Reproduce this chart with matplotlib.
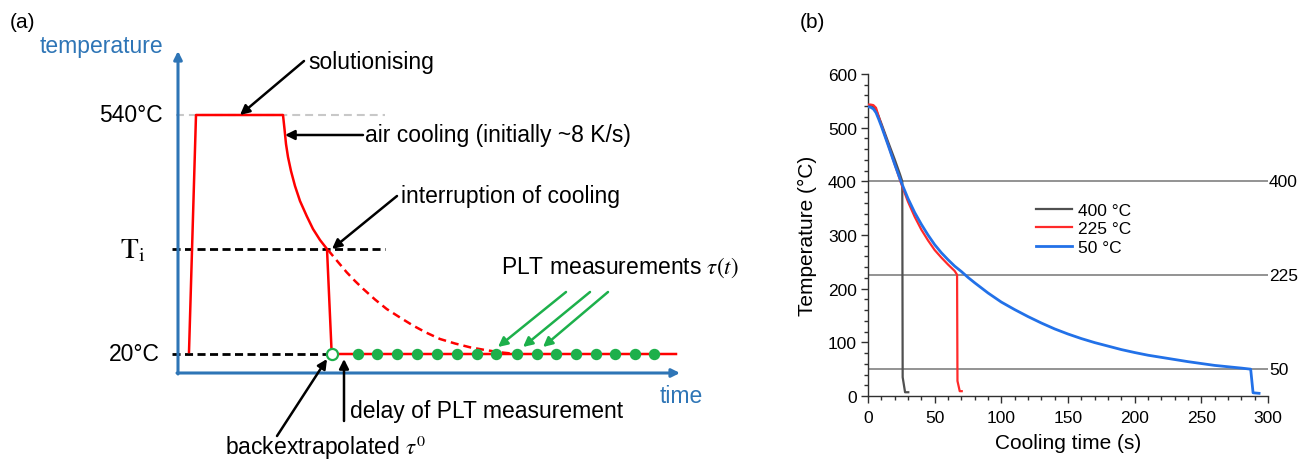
import matplotlib
matplotlib.use("Agg")
import matplotlib.pyplot as plt
from matplotlib.ticker import MultipleLocator
from matplotlib.transforms import blended_transform_factory

plt.rcParams['font.family'] = ['Liberation Sans', 'DejaVu Sans']
plt.rcParams['mathtext.fontset'] = 'stix'

# ---- (a) schematic heat treatment path, drawn on a pixel-like canvas (y grows downward) ----
axis_origin = (178, 374)
axis_top = 52
axis_right = 680

level_540 = 116
level_ti = 250
level_20 = 355

# heating, solutionising, air cooling down to Ti, quench to room temperature
path_x = [189, 196, 283, 284.5, 286, 288, 291, 295, 300, 306.7, 313, 320, 327, 331.7, 676]
path_y = [353, 116, 116, 130, 145, 158, 172, 187, 202, 217, 230, 241, 250, 355, 355]

# continued air cooling (not performed)
cont_x = [328, 338, 346.7, 355, 363.3, 375, 386.7, 400, 413.3, 426, 440, 455, 470, 485, 500, 516]
cont_y = [251, 263, 273.3, 282, 290, 300.5, 310, 318.5, 326.7, 333.5, 340, 344.5, 348.3, 351, 353.3, 355]

# PLT measurement points
plt_x = [358, 377, 397, 417, 437, 457, 477, 496, 517, 537, 556, 576, 596, 615, 635, 654]
tau0_x = 332

# ---- (b) measured cooling curves ----
t_400 = [0, 2, 4, 6, 8, 10, 15, 20, 24, 25.7, 26.0, 27.8, 30.2]
T_400 = [541, 541, 539, 533, 521, 508, 474, 441, 413, 400, 35, 7, 7]

t_225 = [0, 2, 4, 6, 8, 10, 15, 20, 25, 30, 35, 40, 45, 50, 55, 60, 65, 66.8, 67.1, 68.8, 70.3]
T_225 = [543, 543, 542, 537, 521, 505, 469, 432, 395, 362, 334, 310, 290, 272, 258, 245, 233, 226, 28, 9, 9]

t_50 = [0, 2, 4, 6, 8, 10, 15, 20, 25, 30, 35, 40, 45, 50, 55, 60, 65, 70, 75, 80, 90, 100,
        110, 120, 130, 140, 150, 160, 170, 180, 190, 200, 210, 220, 230, 240, 250, 260, 270,
        280, 287, 288.8, 293.3]
T_50 = [539, 538, 535, 528, 516, 503, 468, 432, 398, 368, 342, 320, 300, 282, 267, 254, 242,
        232, 221, 211, 192, 175, 161, 148, 136, 125, 115.5, 107, 99.5, 93, 86.5, 81, 76, 72,
        68, 64, 60.5, 57, 54.5, 52, 50, 6, 5]

stop_levels = [400, 225, 50]

fig = plt.figure(figsize=(12.98, 4.6), dpi=100)

# ================= panel (a) =================
ax = fig.add_axes([0, 0, 720 / 1298, 1])
ax.set_xlim(0, 720)
ax.set_ylim(460, 0)
ax.axis('off')

blue = '#2E75B6'
red = '#FF0000'
green = '#1DB04B'
sans = ['Liberation Sans', 'DejaVu Sans']

# axes with arrow heads
ax.annotate('', xy=(axis_origin[0], axis_top), xytext=(axis_origin[0], axis_origin[1] + 1),
            arrowprops=dict(arrowstyle='-|>', color=blue, lw=2.2, mutation_scale=12,
                            shrinkA=0, shrinkB=0))
ax.annotate('', xy=(axis_right, axis_origin[1]), xytext=(axis_origin[0] - 1, axis_origin[1]),
            arrowprops=dict(arrowstyle='-|>', color=blue, lw=2.2, mutation_scale=12,
                            shrinkA=0, shrinkB=0))
ax.text(40, 47, 'temperature', color=blue, fontsize=16.5, va='center', ha='left', family=sans)
ax.text(660, 397, 'time', color=blue, fontsize=16.5, va='center', ha='left', family=sans)

# reference levels
ax.plot([176, 385], [level_540, level_540], color='#C8C8C8', lw=1.5, dashes=(3.8, 2.4))
ax.plot([172, 385], [level_ti, level_ti], color='black', lw=2, dashes=(2.9, 1.6))
ax.plot([172, 326], [level_20, level_20], color='black', lw=2, dashes=(2.9, 1.6))

ax.text(163, level_540, '540°C', fontsize=16.5, va='center', ha='right', family=sans)
ax.text(120, level_ti, r'$\mathrm{T_i}$', fontsize=21, va='center', ha='left')
ax.text(160, level_20, '20°C', fontsize=16.5, va='center', ha='right', family=sans)

# temperature path
ax.plot(path_x, path_y, color=red, lw=1.8, zorder=3)
ax.plot(cont_x, cont_y, color=red, lw=1.8, dashes=(3.2, 2.0), zorder=3)

# PLT measurements
ax.plot(plt_x, [level_20] * len(plt_x), 'o', color=green, markersize=7.2, zorder=4)
ax.plot([tau0_x], [level_20], 'o', mfc='white', mec=green, mew=1.6, markersize=8, zorder=5)

arrow_k = dict(arrowstyle='-|>', color='black', lw=1.8, mutation_scale=14, shrinkA=0, shrinkB=0)
arrow_g = dict(arrowstyle='-|>', color=green, lw=1.8, mutation_scale=14, shrinkA=0, shrinkB=0)

ax.annotate('', xy=(240, 116), xytext=(304, 62), arrowprops=arrow_k)
ax.text(308, 63, 'solutionising', fontsize=16.5, va='center', ha='left', family=sans)

ax.annotate('', xy=(285, 136), xytext=(363, 136), arrowprops=arrow_k)
ax.text(365, 136, 'air cooling (initially ~8 K/s)', fontsize=16.5, va='center', ha='left',
        family=sans)

ax.annotate('', xy=(332, 250), xytext=(397, 197), arrowprops=arrow_k)
ax.text(401, 197, 'interruption of cooling', fontsize=16.5, va='center', ha='left', family=sans)

ax.text(501, 268, r'PLT measurements $\tau(t)$', fontsize=16.5, va='center', ha='left',
        family=sans)
for x0, x1 in [(566, 498), (590, 523), (608, 543)]:
    ax.annotate('', xy=(x1, 348), xytext=(x0, 293), arrowprops=arrow_g)

ax.annotate('', xy=(344, 360), xytext=(344, 422), arrowprops=arrow_k)
ax.text(350, 412, 'delay of PLT measurement', fontsize=16.5, va='center', ha='left', family=sans)

ax.annotate('', xy=(327, 360), xytext=(277, 437), arrowprops=arrow_k)
ax.text(225, 448, r'backextrapolated $\tau^0$', fontsize=16.5, va='center', ha='left',
        family=sans)

fig.text(10 / 1298, 1 - 22 / 460, '(a)', fontsize=15, va='center', ha='left')

# ================= panel (b) =================
bx = fig.add_axes([868 / 1298, 63 / 460, 400 / 1298, 322 / 460])
bx.set_xlim(0, 300)
bx.set_ylim(0, 600)

for lev in stop_levels:
    bx.axhline(lev, color='#808080', lw=1.2, zorder=1)
trans = blended_transform_factory(bx.transAxes, bx.transData)
for lev in stop_levels:
    bx.text(1.002, lev, str(lev), transform=trans, fontsize=12.5, va='center', ha='left')

bx.plot(t_400, T_400, color='#505050', lw=1.6, label='400 °C', zorder=2)
bx.plot(t_225, T_225, color='#FF2A2A', lw=1.6, label='225 °C', zorder=3)
bx.plot(t_50, T_50, color='#2271E8', lw=2.0, label='50 °C', zorder=4)

bx.xaxis.set_major_locator(MultipleLocator(50))
bx.xaxis.set_minor_locator(MultipleLocator(10))
bx.yaxis.set_major_locator(MultipleLocator(100))
bx.yaxis.set_minor_locator(MultipleLocator(20))
bx.tick_params(which='both', direction='out', colors='#303030', labelcolor='black', width=1)
bx.tick_params(which='major', length=5, labelsize=12.5, pad=3)
bx.tick_params(which='minor', length=3)
bx.tick_params(axis='x', which='major', pad=5)
for side in ['top', 'right']:
    bx.spines[side].set_visible(False)
for side in ['left', 'bottom']:
    bx.spines[side].set_color('#303030')
    bx.spines[side].set_linewidth(1)

bx.set_xlabel('Cooling time (s)', fontsize=15, labelpad=6)
bx.set_ylabel('Temperature (°C)', fontsize=15, labelpad=8)

bx.legend(loc='center left', bbox_to_anchor=(0.42, 0.519), frameon=False, fontsize=12.5,
          handlelength=2.1, handletextpad=0.3, labelspacing=0.2, borderpad=0, borderaxespad=0)

fig.text(800 / 1298, 1 - 22 / 460, '(b)', fontsize=15, va='center', ha='left')

fig.savefig('out.png', dpi=100)
